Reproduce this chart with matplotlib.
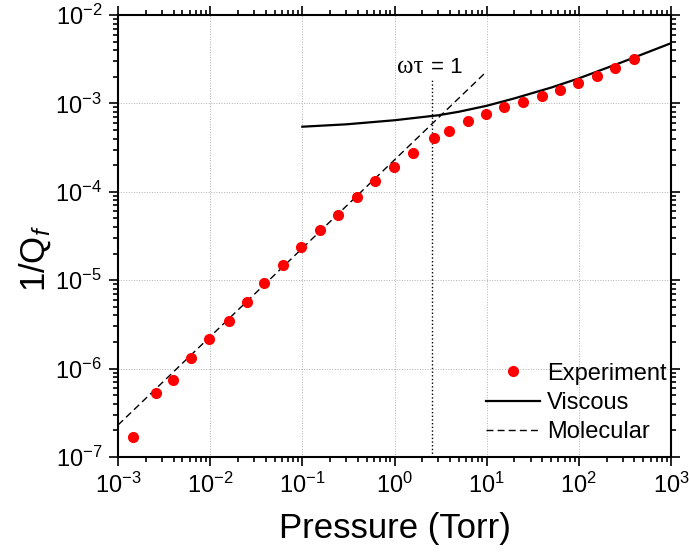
import math
import matplotlib
matplotlib.use('Agg')
import matplotlib.pyplot as plt
from matplotlib.ticker import LogLocator, FuncFormatter, NullFormatter

plt.rcParams['font.family'] = ['Liberation Sans', 'DejaVu Sans']
plt.rcParams['mathtext.fontset'] = 'custom'
plt.rcParams['mathtext.rm'] = 'Liberation Sans'
plt.rcParams['mathtext.it'] = 'Liberation Sans:italic'

# measured 1/Q vs pressure
pressure = [1.46e-3, 2.56e-3, 3.92e-3, 6.19e-3, 9.8e-3, 1.59e-2, 2.49e-2,
            3.84e-2, 6.12e-2, 9.6e-2, 0.156, 0.246, 0.389, 0.619, 0.987,
            1.57, 2.68, 3.93, 6.33, 9.92, 15.5, 24.6, 39.8, 61.9, 98.6,
            157, 249, 400]
inv_q = [1.68e-7, 5.33e-7, 7.43e-7, 1.33e-6, 2.16e-6, 3.45e-6, 5.62e-6,
         9.2e-6, 1.5e-5, 2.35e-5, 3.7e-5, 5.47e-5, 8.67e-5, 1.32e-4, 1.92e-4,
         2.72e-4, 4.03e-4, 4.91e-4, 6.32e-4, 7.59e-4, 9.1e-4, 1.045e-3,
         1.21e-3, 1.42e-3, 1.69e-3, 2.04e-3, 2.49e-3, 3.2e-3]

# viscous-regime model curve
viscous_p = [0.1, 0.3, 1, 3, 5, 10, 20, 50, 100, 300, 1000]
viscous_q = [5.45e-4, 5.8e-4, 6.45e-4, 7.35e-4, 8.05e-4, 9.4e-4, 1.14e-3,
             1.51e-3, 1.92e-3, 2.95e-3, 4.8e-3]

# free-molecular model (linear in pressure)
molecular_p = [1e-3, 10]
molecular_q = [2.3e-7, 2.3e-3]

# crossover where omega*tau = 1
p_cross = 2.53
q_cross_top = 1.85e-3

fig = plt.figure(figsize=(6.89, 5.54), dpi=100)
ax = fig.add_axes([0.1713, 0.1751, 0.8026, 0.7978])

ax.plot(pressure, inv_q, 'o', color='#ff0000', ms=7, mec='#ff0000',
        label='Experiment', zorder=3)
ax.plot(viscous_p, viscous_q, '-', color='black', lw=1.6, label='Viscous')
ax.plot(molecular_p, molecular_q, '--', color='black', lw=1.0,
        dashes=(5, 3), label='Molecular')
ax.plot([p_cross, p_cross], [1e-7, q_cross_top], ':', color='black', lw=1.0)

ax.text(0.5515, 0.868, '\u03c9\u03c4', transform=ax.transAxes, ha='right',
        va='baseline', fontsize=18, family=['Liberation Serif', 'DejaVu Serif'])
ax.text(0.566, 0.868, '= 1', transform=ax.transAxes, ha='left',
        va='baseline', fontsize=16)

ax.set_xscale('log')
ax.set_yscale('log')
ax.set_xlim(1e-3, 1e3)
ax.set_ylim(1e-7, 1e-2)

fmt = FuncFormatter(lambda v, pos: r'$\mathregular{10^{%d}}$' % round(math.log10(v)))
for axis in (ax.xaxis, ax.yaxis):
    axis.set_major_locator(LogLocator(base=10, numticks=20))
    axis.set_minor_locator(LogLocator(base=10, subs=range(2, 10), numticks=20))
    axis.set_major_formatter(fmt)
    axis.set_minor_formatter(NullFormatter())

ax.tick_params(which='both', direction='out', top=True, right=True, width=1.2)
ax.tick_params(which='major', length=6.5, labelsize=17, pad=5)
ax.tick_params(which='minor', length=3.5)
for s in ax.spines.values():
    s.set_linewidth(1.5)

ax.grid(True, which='major', ls=':', lw=0.7, color='#b0b0b0')

ax.set_xlabel('Pressure (Torr)', fontsize=25, labelpad=10)
ax.set_ylabel(r'1/Q$_{\mathit{f}}$', fontsize=25)
ax.yaxis.set_label_coords(-0.1175, 0.45)

ax.legend(loc='lower right', bbox_to_anchor=(1.009, 0.0106), frameon=False,
          fontsize=17, handlelength=2.3, handletextpad=0.3, labelspacing=0.3,
          borderaxespad=0.0)

fig.savefig('out.png', dpi=100)
